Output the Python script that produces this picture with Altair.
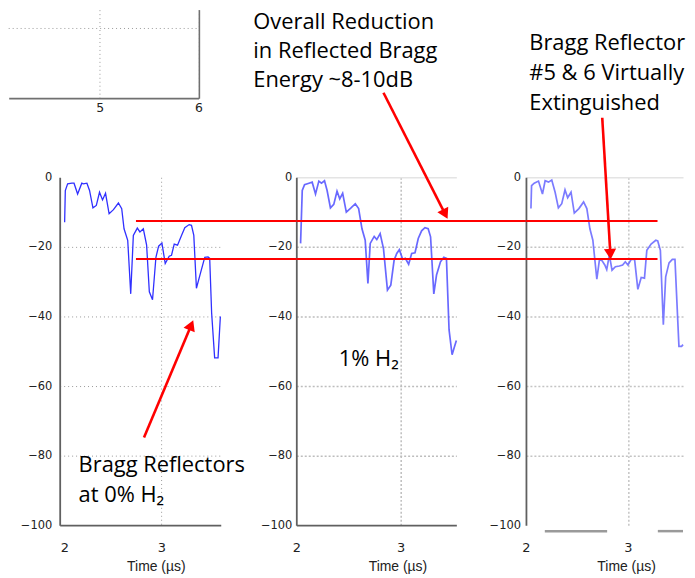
import altair as alt
import pandas as pd

# ---------------- data ----------------
# Panel 1: Bragg reflectors at 0% H2  (time in µs, reflected level in dB)
p1_t = [2.003, 2.010, 2.034, 2.078, 2.100, 2.137, 2.180, 2.197, 2.233, 2.260,
        2.295, 2.330, 2.363, 2.394, 2.425, 2.462, 2.507, 2.558, 2.592, 2.616,
        2.654, 2.685, 2.712, 2.753, 2.780, 2.815, 2.849, 2.877, 2.910, 2.945,
        2.973, 3.007, 3.041, 3.082, 3.106, 3.134, 3.168, 3.209, 3.243, 3.288,
        3.312, 3.336, 3.363, 3.404, 3.449, 3.483, 3.500, 3.520, 3.551, 3.586, 3.610]
p1_db = [-12.9, -3.8, -1.9, -1.7, -1.7, -4.8, -1.7, -1.9, -1.7, -3.8,
         -8.8, -8.1, -4.3, -6.5, -4.6, -10.5, -9.3, -7.4, -9.0, -14.8,
         -18.1, -33.5, -16.7, -14.6, -15.7, -14.8, -19.5, -32.9, -35.2, -23.0,
         -19.8, -18.9, -24.8, -22.7, -22.4, -19.2, -19.5, -16.7, -14.5, -13.6,
         -13.8, -16.7, -31.9, -27.6, -23.0, -22.9, -23.3, -39.0, -51.9, -51.9, -40.0]

# Panel 2: 1% H2
p2_t = [2.041, 2.057, 2.079, 2.121, 2.152, 2.184, 2.216, 2.241, 2.270, 2.295,
        2.327, 2.359, 2.390, 2.416, 2.444, 2.479, 2.524, 2.565, 2.597, 2.629,
        2.660, 2.686, 2.708, 2.746, 2.771, 2.803, 2.835, 2.873, 2.905, 2.937,
        2.962, 2.987, 3.019, 3.044, 3.076, 3.105, 3.137, 3.168, 3.200, 3.232,
        3.263, 3.286, 3.317, 3.343, 3.381, 3.413, 3.438, 3.463, 3.492, 3.517, 3.533]
p2_db = [-19.0, -3.8, -2.1, -1.7, -1.4, -4.8, -1.1, -1.7, -1.0, -3.8,
         -8.8, -7.8, -4.0, -6.2, -4.6, -10.0, -8.8, -7.6, -9.0, -14.8,
         -18.1, -30.5, -19.0, -17.0, -17.9, -16.2, -20.5, -32.4, -31.0, -23.8,
         -21.9, -20.8, -23.6, -23.3, -25.0, -21.9, -21.7, -17.6, -15.4, -14.5,
         -14.8, -17.1, -33.5, -28.1, -24.3, -23.0, -23.3, -43.8, -51.0, -48.5, -46.9]

# Panel 3: Bragg reflectors #5 & 6 virtually extinguished
p3_t = [2.049, 2.055, 2.081, 2.123, 2.162, 2.188, 2.221, 2.253, 2.286, 2.318,
        2.351, 2.383, 2.409, 2.442, 2.474, 2.519, 2.565, 2.597, 2.627, 2.656,
        2.695, 2.721, 2.747, 2.773, 2.792, 2.818, 2.844, 2.877, 2.916, 2.948,
        2.974, 3.000, 3.032, 3.065, 3.097, 3.130, 3.162, 3.185, 3.227, 3.273,
        3.292, 3.318, 3.347, 3.370, 3.403, 3.435, 3.461, 3.500, 3.526, 3.540]
p3_db = [-9.0, -2.4, -1.7, -1.1, -4.8, -1.0, -1.4, -0.8, -4.3, -8.8,
         -7.6, -3.6, -5.9, -4.3, -10.3, -9.0, -7.1, -9.0, -14.8, -18.1,
         -29.3, -23.6, -24.0, -25.2, -26.5, -22.4, -26.7, -25.7, -25.5, -25.2,
         -24.3, -25.2, -23.6, -23.6, -32.2, -28.8, -29.0, -21.0, -19.2, -18.1,
         -18.3, -21.0, -42.4, -28.6, -24.6, -23.6, -23.6, -48.6, -48.6, -48.1]

x_ticks = [2, 3]
y_ticks = [0, -20, -40, -60, -80, -100]
frag_x_ticks = [5, 6]
frag_x_domain = [4.08, 6]
frag_y_domain = [0, 1.27]
frag_y_grid = [1.0]

# two reference levels (red lines), dB
ref_levels = [-12.6, -23.5]
# red line extents per panel (time units of each panel)
ref_start = [2.739, 2.0, 2.0]
ref_end = [4.394, 4.2, 3.29]

# arrows: tail (t, dB), head centre (t, dB), head angle (deg) per panel
arrow_tail_t = [2.822, 2.835, 2.748]
arrow_tail_db = [-74.8, 24.3, 17.1]
arrow_head_t = [3.309, 3.426, 2.8275]
arrow_head_db = [-42.5, -10.6, -22.1]
arrow_angle = [22.8, 153.1, 176.6]

# annotation texts (lines, left position t, baseline dB) per panel
txt1_lines = ["Bragg Reflectors", "at 0% H₂"]
txt1_t = [2.147, 2.147]
txt1_db = [-84.8, -93.2]
txt2_lines = ["Overall Reduction", "in Reflected Bragg", "Energy ~8-10dB", "1% H₂"]
txt2_t = [1.588, 1.588, 1.588, 2.407]
txt2_db = [42.6, 34.3, 26.0, -54.1]
txt3_lines = ["Bragg Reflector", "#5 & 6 Virtually", "Extinguished"]
txt3_t = [2.033, 2.033, 2.033]
txt3_db = [36.7, 27.9, 19.3]

# grey strokes under the third panel
grey_t = [2.185, 3.293]
grey_t2 = [2.796, 3.540]
grey_db = [-101.7, -101.7]

TEXT_FONT = "Open Sans"
TEXT_SIZE = 22


def panel(idx, t, db, dom, cell_w, range_w, line_color, line_w, line_op, grid_color,
          grid_dash, grid_w, label_pad, title_x, txt_lines, txt_t, txt_db,
          top_line=False, bottom_domain=True, extra=None):
    xscale = alt.Scale(domain=dom, range=[0, range_w], nice=False, zero=False)
    yscale = alt.Scale(domain=[-100, 0], nice=False, zero=False)
    xaxis = alt.Axis(values=x_ticks, grid=True, ticks=False, labelPadding=16,
                     labelFont="DejaVu Sans", labelFontSize=13, labelColor="#222",
                     labelFlush=False, domain=bottom_domain, domainColor="#606060",
                     domainWidth=1.8, gridColor=grid_color, gridDash=grid_dash,
                     gridWidth=grid_w,
                     gridOpacity={"condition": {"test": "datum.value == 2", "value": 0}, "value": 1},
                     title="Time (µs)", titleFont="Liberation Sans", titleFontSize=14,
                     titleFontWeight="normal", titleColor="#222", titleX=title_x,
                     titleY=46, titleBaseline="alphabetic", titleAlign="center")
    if top_line:
        gcol = {"condition": {"test": "datum.value == 0", "value": "#e4e4e4"}, "value": grid_color}
        gdash = {"condition": {"test": "datum.value == 0", "value": []}, "value": grid_dash}
        gop = {"condition": {"test": "datum.value == -100", "value": 0}, "value": 1}
    else:
        gcol = grid_color
        gdash = grid_dash
        gop = {"condition": {"test": "datum.value == 0 || datum.value == -100", "value": 0}, "value": 1}
    yaxis = alt.Axis(values=y_ticks, grid=True, ticks=False, labelPadding=label_pad,
                     labelFont="DejaVu Sans", labelFontSize=11.5, labelColor="#222",
                     labelFlush=False, domainColor="#606060", domainWidth=1.8,
                     gridColor=gcol, gridDash=gdash, gridWidth=grid_w, gridOpacity=gop,
                     title=None)
    X = alt.X("t:Q", scale=xscale, axis=xaxis)
    Y = alt.Y("db:Q", scale=yscale, axis=yaxis)

    df = pd.DataFrame({"t": t, "db": db})
    line = alt.Chart(df).mark_line(color=line_color, strokeWidth=line_w,
                                   opacity=line_op).encode(x=X, y=Y)

    rules_df = pd.DataFrame({"t": [ref_start[idx]] * 2, "t2": [ref_end[idx]] * 2,
                             "db": ref_levels})
    rules = alt.Chart(rules_df).mark_rule(color="#ff0000", strokeWidth=2).encode(
        x=X, x2="t2:Q", y=Y)

    arr_df = pd.DataFrame({"t": [arrow_tail_t[idx]], "db": [arrow_tail_db[idx]],
                           "t2": [arrow_head_t[idx]], "db2": [arrow_head_db[idx]]})
    shaft = alt.Chart(arr_df).mark_rule(color="#ff0000", strokeWidth=2.6).encode(
        x=X, y=Y, x2="t2:Q", y2="db2:Q")
    head_df = pd.DataFrame({"t": [arrow_head_t[idx]], "db": [arrow_head_db[idx]],
                            "ang": [arrow_angle[idx]]})
    head = alt.Chart(head_df).mark_point(shape="triangle-up", filled=True, size=150,
                                         color="#ff0000", opacity=1, strokeWidth=0).encode(
        x=X, y=Y, angle=alt.Angle("ang:Q", scale=None))

    txt_df = pd.DataFrame({"t": txt_t, "db": txt_db, "label": txt_lines})
    texts = alt.Chart(txt_df).mark_text(align="left", baseline="alphabetic",
                                        font=TEXT_FONT, fontSize=TEXT_SIZE,
                                        color="#000000").encode(x=X, y=Y, text="label:N")
    layers = [line]
    if extra is not None:
        layers.append(extra(X, Y))
    layers += [rules, shaft, head, texts]
    return alt.layer(*layers).properties(width=cell_w, height=350)


def grey_strokes(X, Y):
    gdf = pd.DataFrame({"t": grey_t, "t2": grey_t2, "db": grey_db})
    return alt.Chart(gdf).mark_rule(color="#9a9a9a", strokeWidth=2.5).encode(
        x=X, x2="t2:Q", y=Y)


p1 = panel(0, p1_t, p1_db, [1.952, 3.614], 165, 162, "#3030ff", 1.3, 1.0, "#999999",
           [1, 3], 1, 8, 96.7, txt1_lines, txt1_t, txt1_db)
p2 = panel(1, p2_t, p2_db, [2.0, 3.533], 158, 161, "#4d4dff", 1.7, 0.85, "#bdbdbd",
           [2, 2], 1.5, 4.5, 101.7, txt2_lines, txt2_t, txt2_db, top_line=True)
p3 = panel(2, p3_t, p3_db, [2.0, 3.54], 158, 158, "#5a5aff", 1.7, 0.8, "#c4c4c4",
           [2, 2], 1.5, 5.5, 100.7, txt3_lines, txt3_t, txt3_db, top_line=True,
           bottom_domain=False, extra=grey_strokes)

# fragment of another chart in the top-left corner
fx_scale = alt.Scale(domain=frag_x_domain, range=[-51.3, 139.7], nice=False, zero=False)
fy_scale = alt.Scale(domain=frag_y_domain, nice=False, zero=False)
FX = alt.X("fx:Q", scale=fx_scale,
           axis=alt.Axis(values=frag_x_ticks, grid=True, ticks=False, labelPadding=3,
                         labelFont="DejaVu Sans", labelFontSize=12.5, labelColor="#222",
                         labelFlush=False, domainColor="#707070", domainWidth=1.6,
                         gridColor="#9a9a9a", gridDash=[1, 3], title=None))
FY = alt.Y("fy:Q", scale=fy_scale,
           axis=alt.Axis(orient="right", values=frag_y_grid, grid=False, labels=False,
                         ticks=False, domainColor="#707070", domainWidth=1.6, title=None))
# invisible rule marking the left edge of the fragment
edge_df = pd.DataFrame({"fx": [frag_x_domain[0]], "fy": [frag_y_domain[0]],
                        "fy2": [frag_y_domain[1]]})
edge = alt.Chart(edge_df).mark_rule(strokeOpacity=0, strokeWidth=1).encode(
    x=FX, y=FY, y2="fy2:Q")
# horizontal dotted grid line of the fragment
hgrid_df = pd.DataFrame({"fx": [frag_x_domain[0]], "fx2": [frag_x_domain[1]],
                         "fy": frag_y_grid})
hgrid = alt.Chart(hgrid_df).mark_rule(color="#9a9a9a", strokeDash=[1, 3],
                                      strokeWidth=1).encode(x=FX, x2="fx2:Q", y=FY)
frag = alt.layer(edge, hgrid).properties(width=140, height=89)

row = alt.hconcat(p1, p2, p3, spacing=73, bounds="flush")

chart = alt.vconcat(frag, row, spacing=79.6, bounds="flush").properties(
    padding=0, background="white"
).configure_view(strokeWidth=0)

chart.save("out.html", embed_options={"renderer": "svg", "actions": False})
